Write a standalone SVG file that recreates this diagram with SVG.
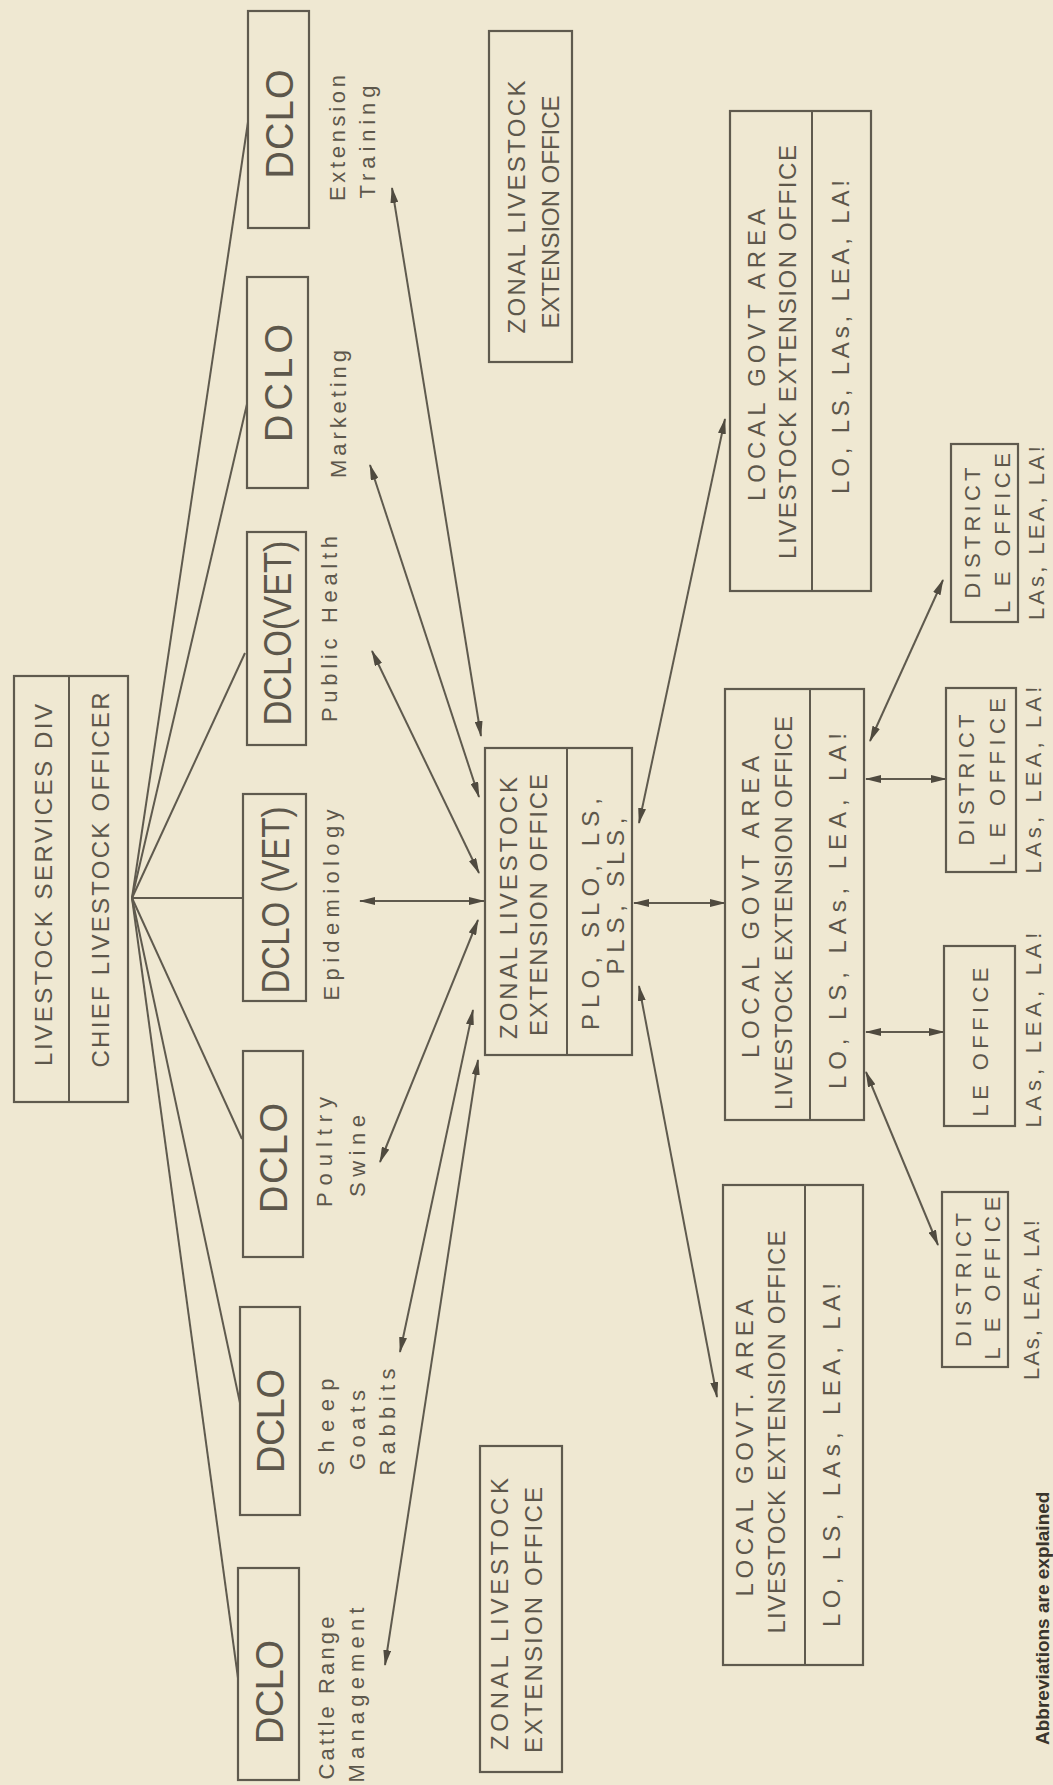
<svg xmlns="http://www.w3.org/2000/svg" width="1053" height="1785" viewBox="0 0 1053 1785">
<defs>
<style>
.bx{fill:none;stroke:#5f5a4e;stroke-width:2.2}
.dv{stroke:#5f5a4e;stroke-width:2}
.t{font-family:"Liberation Sans","DejaVu Sans",Arial,sans-serif;fill:#5d574b;text-anchor:middle;dominant-baseline:central}
.big{font-size:38px}
.mid{font-size:24px}
.sm{font-size:22px}
.lb{font-size:22px}
.ab{font-family:"Liberation Sans",Arial,sans-serif;font-weight:bold;font-size:19px;fill:#3a352c}
.ln{fill:none;stroke:#5f5a4e;stroke-width:2}
.ar{fill:none;stroke:#5f5a4e;stroke-width:2;marker-start:url(#ah);marker-end:url(#ah)}
</style>
<marker id="ah" viewBox="0 0 16 8" refX="15" refY="4" markerWidth="16" markerHeight="8" markerUnits="userSpaceOnUse" orient="auto-start-reverse">
<path d="M0,0 L16,4 L0,8 Z" fill="#4f4a3f"/>
</marker>
</defs>
<rect x="0" y="0" width="1053" height="1785" fill="#efe8d2"/>

<g id="connectors">
<g id="fan">
<path class="ln" d="M132,898 L248,122"/>
<path class="ln" d="M132,898 L247,404"/>
<path class="ln" d="M132,898 L245,653"/>
<path class="ln" d="M132,898 L243,898"/>
<path class="ln" d="M132,898 L242,1139"/>
<path class="ln" d="M132,898 L240,1403"/>
<path class="ln" d="M132,898 L238,1678"/>
</g>
<g id="function-links">
<path class="ar" d="M392,188 L481,736"/>
<path class="ar" d="M370,465 L479,797"/>
<path class="ar" d="M372,651 L479,873"/>
<path class="ar" d="M360,901 L484,901"/>
<path class="ar" d="M380,1162 L478,920"/>
<path class="ar" d="M400,1352 L473,1010"/>
<path class="ar" d="M385,1665 L478,1060"/>
</g>
<g id="zonal-lga-links">
<path class="ar" d="M639,823 L725,419"/>
<path class="ar" d="M634,903 L725,903"/>
<path class="ar" d="M639,986 L717,1397"/>
</g>
<g id="lga-district-links">
<path class="ar" d="M870,741 L943,580"/>
<path class="ar" d="M866,779 L946,779"/>
<path class="ar" d="M866,1032 L944,1032"/>
<path class="ar" d="M866,1072 L938,1245"/>
</g>
</g>

<g id="chief">
<rect class="bx" x="14" y="676" width="114" height="426"/>
<line class="dv" x1="69" y1="676" x2="69" y2="1102"/>
<text class="t mid" transform="translate(43,885) rotate(-90)" textLength="362" lengthAdjust="spacing">LIVESTOCK SERVICES DIV</text>
<text class="t mid" transform="translate(100,880) rotate(-90)" textLength="375" lengthAdjust="spacing">CHIEF LIVESTOCK OFFICER</text>
</g>

<g id="dclo-extension">
<rect class="bx" x="248" y="11" width="61" height="217"/>
<text class="t big" transform="translate(280,124) rotate(-90)" textLength="109" lengthAdjust="spacing">DCLO</text>
</g>
<g id="dclo-marketing">
<rect class="bx" x="247" y="277" width="61" height="211"/>
<text class="t big" transform="translate(279,383) rotate(-90)" textLength="118" lengthAdjust="spacing">DCLO</text>
</g>
<g id="dclo-public-health">
<rect class="bx" x="247" y="532" width="59" height="213"/>
<text class="t big" transform="translate(278,633) rotate(-90)" textLength="185" lengthAdjust="spacingAndGlyphs">DCLO(VET)</text>
</g>
<g id="dclo-epidemiology">
<rect class="bx" x="243" y="794" width="63" height="207"/>
<text class="t big" transform="translate(276,900) rotate(-90)" textLength="187" lengthAdjust="spacingAndGlyphs">DCLO (VET)</text>
</g>
<g id="dclo-poultry">
<rect class="bx" x="243" y="1051" width="60" height="206"/>
<text class="t big" transform="translate(274,1158) rotate(-90)" textLength="110" lengthAdjust="spacing">DCLO</text>
</g>
<g id="dclo-sheep">
<rect class="bx" x="240" y="1307" width="60" height="208"/>
<text class="t big" transform="translate(271,1421) rotate(-90)" textLength="104" lengthAdjust="spacing">DCLO</text>
</g>
<g id="dclo-cattle">
<rect class="bx" x="238" y="1568" width="61" height="212"/>
<text class="t big" transform="translate(270,1692) rotate(-90)" textLength="104" lengthAdjust="spacing">DCLO</text>
</g>

<g id="labels">
<text class="t lb" transform="translate(337,138) rotate(-90)" textLength="126" lengthAdjust="spacing">Extension</text>
<text class="t lb" transform="translate(367,142) rotate(-90)" textLength="113" lengthAdjust="spacing">Training</text>
<text class="t lb" transform="translate(338,414) rotate(-90)" textLength="128" lengthAdjust="spacing">Marketing</text>
<text class="t lb" transform="translate(329,629) rotate(-90)" textLength="186" lengthAdjust="spacing">Public Health</text>
<text class="t lb" transform="translate(331,905) rotate(-90)" textLength="191" lengthAdjust="spacing">Epidemiology</text>
<text class="t lb" transform="translate(324,1152) rotate(-90)" textLength="110" lengthAdjust="spacing">Poultry</text>
<text class="t lb" transform="translate(357,1156) rotate(-90)" textLength="82" lengthAdjust="spacing">Swine</text>
<text class="t lb" transform="translate(326,1427) rotate(-90)" textLength="97" lengthAdjust="spacing">Sheep</text>
<text class="t lb" transform="translate(357,1430) rotate(-90)" textLength="80" lengthAdjust="spacing">Goats</text>
<text class="t lb" transform="translate(387,1422) rotate(-90)" textLength="107" lengthAdjust="spacing">Rabbits</text>
<text class="t lb" transform="translate(326,1698) rotate(-90)" textLength="163" lengthAdjust="spacing">Cattle Range</text>
<text class="t lb" transform="translate(356,1695) rotate(-90)" textLength="175" lengthAdjust="spacing">Management</text>
</g>

<g id="zonal-top">
<rect class="bx" x="489" y="31" width="83" height="331"/>
<text class="t mid" transform="translate(516,207) rotate(-90)" textLength="253" lengthAdjust="spacing">ZONAL LIVESTOCK</text>
<text class="t mid" transform="translate(550,212) rotate(-90)" textLength="233" lengthAdjust="spacing">EXTENSION OFFICE</text>
</g>

<g id="zonal-center">
<rect class="bx" x="485" y="748" width="147" height="307"/>
<line class="dv" x1="567" y1="748" x2="567" y2="1055"/>
<text class="t mid" transform="translate(508,908) rotate(-90)" textLength="262" lengthAdjust="spacing">ZONAL LIVESTOCK</text>
<text class="t mid" transform="translate(538,905) rotate(-90)" textLength="262" lengthAdjust="spacing">EXTENSION OFFICE</text>
<text class="t mid" transform="translate(590,914) rotate(-90)" textLength="232" lengthAdjust="spacing">PLO, SLO, LS,</text>
<text class="t mid" transform="translate(615,896) rotate(-90)" textLength="157" lengthAdjust="spacing">PLS, SLS,</text>
</g>

<g id="zonal-bottom">
<rect class="bx" x="480" y="1446" width="82" height="326"/>
<text class="t mid" transform="translate(499,1614) rotate(-90)" textLength="272" lengthAdjust="spacing">ZONAL LIVESTOCK</text>
<text class="t mid" transform="translate(533,1620) rotate(-90)" textLength="266" lengthAdjust="spacing">EXTENSION OFFICE</text>
</g>

<g id="lga-top">
<rect class="bx" x="730" y="111" width="141" height="480"/>
<line class="dv" x1="812" y1="111" x2="812" y2="591"/>
<text class="t mid" transform="translate(756,355) rotate(-90)" textLength="292" lengthAdjust="spacing">LOCAL GOVT AREA</text>
<text class="t mid" transform="translate(787,352) rotate(-90)" textLength="414" lengthAdjust="spacing">LIVESTOCK EXTENSION OFFICE</text>
<text class="t mid" transform="translate(840,337) rotate(-90)" textLength="314" lengthAdjust="spacing">LO, LS, LAs, LEA, LA!</text>
</g>

<g id="lga-center">
<rect class="bx" x="725" y="689" width="139" height="431"/>
<line class="dv" x1="810" y1="689" x2="810" y2="1120"/>
<text class="t mid" transform="translate(750,907) rotate(-90)" textLength="302" lengthAdjust="spacing">LOCAL GOVT AREA</text>
<text class="t mid" transform="translate(783,913) rotate(-90)" textLength="394" lengthAdjust="spacing">LIVESTOCK EXTENSION OFFICE</text>
<text class="t mid" transform="translate(837,911) rotate(-90)" textLength="356" lengthAdjust="spacing">LO, LS, LAs, LEA, LA!</text>
</g>

<g id="lga-bottom">
<rect class="bx" x="723" y="1185" width="140" height="480"/>
<line class="dv" x1="805" y1="1185" x2="805" y2="1665"/>
<text class="t mid" transform="translate(744,1448) rotate(-90)" textLength="297" lengthAdjust="spacing">LOCAL GOVT. AREA</text>
<text class="t mid" transform="translate(776,1432) rotate(-90)" textLength="403" lengthAdjust="spacing">LIVESTOCK EXTENSION OFFICE</text>
<text class="t mid" transform="translate(831,1455) rotate(-90)" textLength="344" lengthAdjust="spacing">LO, LS, LAs, LEA, LA!</text>
</g>

<g id="district-top">
<rect class="bx" x="951" y="444" width="67" height="178"/>
<text class="t sm" transform="translate(972,533) rotate(-90)" textLength="131" lengthAdjust="spacing">DISTRICT</text>
<text class="t sm" transform="translate(1002,533) rotate(-90)" textLength="160" lengthAdjust="spacing">L E OFFICE</text>
<text class="t sm" transform="translate(1036,533) rotate(-90)" textLength="174" lengthAdjust="spacing">LAs, LEA, LA!</text>
</g>

<g id="district-middle">
<rect class="bx" x="946" y="688" width="70" height="184"/>
<text class="t sm" transform="translate(966,780) rotate(-90)" textLength="131" lengthAdjust="spacing">DISTRICT</text>
<text class="t sm" transform="translate(997,782) rotate(-90)" textLength="168" lengthAdjust="spacing">L E OFFICE</text>
<text class="t sm" transform="translate(1033,780) rotate(-90)" textLength="187" lengthAdjust="spacing">LAs, LEA, LA!</text>
</g>

<g id="le-office">
<rect class="bx" x="944" y="946" width="71" height="180"/>
<text class="t sm" transform="translate(980,1042) rotate(-90)" textLength="149" lengthAdjust="spacing">LE OFFICE</text>
<text class="t sm" transform="translate(1033,1030) rotate(-90)" textLength="195" lengthAdjust="spacing">LAs, LEA, LA!</text>
</g>

<g id="district-bottom">
<rect class="bx" x="942" y="1192" width="66" height="175"/>
<text class="t sm" transform="translate(963,1280) rotate(-90)" textLength="134" lengthAdjust="spacing">DISTRICT</text>
<text class="t sm" transform="translate(992,1278) rotate(-90)" textLength="163" lengthAdjust="spacing">L E OFFICE</text>
<text class="t sm" transform="translate(1031,1300) rotate(-90)" textLength="160" lengthAdjust="spacing">LAs, LEA, LA!</text>
</g>

<text class="ab" transform="translate(1049,1745) rotate(-90)">Abbreviations are explained</text>
</svg>
